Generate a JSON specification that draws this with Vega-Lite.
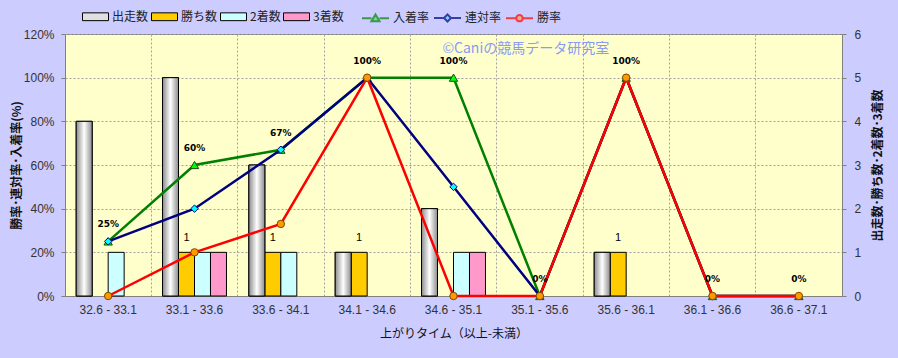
{
  "$schema": "https://vega.github.io/schema/vega-lite/v6.json",
  "width": 777,
  "height": 262,
  "autosize": {"type": "none"},
  "padding": {"left": 65, "top": 34, "right": 56, "bottom": 62},
  "background": "#CCCCFF",
  "config": {
    "view": {"fill": "#FFFFCC", "stroke": "#808080"},
    "axis": {
      "labelFont": "Liberation Sans",
      "labelFontSize": 12,
      "labelColor": "#333333",
      "titleFont": "Noto Sans CJK JP",
      "titleFontSize": 12,
      "titleColor": "#111111",
      "domainColor": "#808080",
      "tickColor": "#808080"
    },
    "legend": {
      "labelFont": "Noto Sans CJK JP",
      "labelFontSize": 12,
      "labelColor": "#222222"
    }
  },
  "datasets": {
    "counts": [
      {"range": "32.6 - 33.1", "series": "出走数", "count": 4},
      {"range": "32.6 - 33.1", "series": "勝ち数", "count": 0},
      {"range": "32.6 - 33.1", "series": "2着数", "count": 1},
      {"range": "32.6 - 33.1", "series": "3着数", "count": 0},
      {"range": "33.1 - 33.6", "series": "出走数", "count": 5},
      {"range": "33.1 - 33.6", "series": "勝ち数", "count": 1},
      {"range": "33.1 - 33.6", "series": "2着数", "count": 1},
      {"range": "33.1 - 33.6", "series": "3着数", "count": 1},
      {"range": "33.6 - 34.1", "series": "出走数", "count": 3},
      {"range": "33.6 - 34.1", "series": "勝ち数", "count": 1},
      {"range": "33.6 - 34.1", "series": "2着数", "count": 1},
      {"range": "33.6 - 34.1", "series": "3着数", "count": 0},
      {"range": "34.1 - 34.6", "series": "出走数", "count": 1},
      {"range": "34.1 - 34.6", "series": "勝ち数", "count": 1},
      {"range": "34.1 - 34.6", "series": "2着数", "count": 0},
      {"range": "34.1 - 34.6", "series": "3着数", "count": 0},
      {"range": "34.6 - 35.1", "series": "出走数", "count": 2},
      {"range": "34.6 - 35.1", "series": "勝ち数", "count": 0},
      {"range": "34.6 - 35.1", "series": "2着数", "count": 1},
      {"range": "34.6 - 35.1", "series": "3着数", "count": 1},
      {"range": "35.1 - 35.6", "series": "出走数", "count": 0},
      {"range": "35.1 - 35.6", "series": "勝ち数", "count": 0},
      {"range": "35.1 - 35.6", "series": "2着数", "count": 0},
      {"range": "35.1 - 35.6", "series": "3着数", "count": 0},
      {"range": "35.6 - 36.1", "series": "出走数", "count": 1},
      {"range": "35.6 - 36.1", "series": "勝ち数", "count": 1},
      {"range": "35.6 - 36.1", "series": "2着数", "count": 0},
      {"range": "35.6 - 36.1", "series": "3着数", "count": 0},
      {"range": "36.1 - 36.6", "series": "出走数", "count": 0},
      {"range": "36.1 - 36.6", "series": "勝ち数", "count": 0},
      {"range": "36.1 - 36.6", "series": "2着数", "count": 0},
      {"range": "36.1 - 36.6", "series": "3着数", "count": 0},
      {"range": "36.6 - 37.1", "series": "出走数", "count": 0},
      {"range": "36.6 - 37.1", "series": "勝ち数", "count": 0},
      {"range": "36.6 - 37.1", "series": "2着数", "count": 0},
      {"range": "36.6 - 37.1", "series": "3着数", "count": 0}
    ],
    "rates": [
      {"range": "32.6 - 33.1", "rate": "入着率", "value": 0.25},
      {"range": "33.1 - 33.6", "rate": "入着率", "value": 0.6},
      {"range": "33.6 - 34.1", "rate": "入着率", "value": 0.67},
      {"range": "34.1 - 34.6", "rate": "入着率", "value": 1.0},
      {"range": "34.6 - 35.1", "rate": "入着率", "value": 1.0},
      {"range": "35.1 - 35.6", "rate": "入着率", "value": 0},
      {"range": "35.6 - 36.1", "rate": "入着率", "value": 1.0},
      {"range": "36.1 - 36.6", "rate": "入着率", "value": 0},
      {"range": "36.6 - 37.1", "rate": "入着率", "value": 0},
      {"range": "32.6 - 33.1", "rate": "連対率", "value": 0.25},
      {"range": "33.1 - 33.6", "rate": "連対率", "value": 0.4},
      {"range": "33.6 - 34.1", "rate": "連対率", "value": 0.67},
      {"range": "34.1 - 34.6", "rate": "連対率", "value": 1.0},
      {"range": "34.6 - 35.1", "rate": "連対率", "value": 0.5},
      {"range": "35.1 - 35.6", "rate": "連対率", "value": 0},
      {"range": "35.6 - 36.1", "rate": "連対率", "value": 1.0},
      {"range": "36.1 - 36.6", "rate": "連対率", "value": 0},
      {"range": "36.6 - 37.1", "rate": "連対率", "value": 0},
      {"range": "32.6 - 33.1", "rate": "勝率", "value": 0},
      {"range": "33.1 - 33.6", "rate": "勝率", "value": 0.2},
      {"range": "33.6 - 34.1", "rate": "勝率", "value": 0.33},
      {"range": "34.1 - 34.6", "rate": "勝率", "value": 1.0},
      {"range": "34.6 - 35.1", "rate": "勝率", "value": 0},
      {"range": "35.1 - 35.6", "rate": "勝率", "value": 0},
      {"range": "35.6 - 36.1", "rate": "勝率", "value": 1.0},
      {"range": "36.1 - 36.6", "rate": "勝率", "value": 0},
      {"range": "36.6 - 37.1", "rate": "勝率", "value": 0}
    ],
    "notes": [
      {"range": "35.1 - 35.6", "value": 1.13, "note": "©Caniの競馬データ研究室"}
    ]
  },
  "encoding": {
    "x": {
      "field": "range",
      "type": "nominal",
      "sort": null,
      "scale": {
        "domain": ["32.6 - 33.1", "33.1 - 33.6", "33.6 - 34.1", "34.1 - 34.6", "34.6 - 35.1", "35.1 - 35.6", "35.6 - 36.1", "36.1 - 36.6", "36.6 - 37.1"],
        "paddingInner": 0,
        "paddingOuter": 0
      },
      "axis": {
        "title": "上がりタイム（以上-未満）",
        "titleFontWeight": "normal",
        "titlePadding": 13,
        "labelAngle": 0,
        "ticks": false,
        "labelPadding": 8,
        "grid": true,
        "bandPosition": 0,
        "gridColor": "#A0A0A0",
        "gridDash": [2, 2],
        "gridWidth": 1
      }
    }
  },
  "layer": [
    {
      "data": {"name": "counts"},
      "encoding": {
        "xOffset": {
          "field": "series",
          "type": "nominal",
          "sort": null,
          "scale": {"domain": ["出走数", "勝ち数", "2着数", "3着数"], "paddingInner": 0, "paddingOuter": 0.7}
        },
        "y": {
          "field": "count",
          "type": "quantitative",
          "scale": {"domain": [0, 6], "nice": false},
          "axis": {
            "orient": "right",
            "values": [0, 1, 2, 3, 4, 5, 6],
            "grid": false,
            "tickSize": 4,
            "labelPadding": 8,
            "title": "出走数･勝ち数･2着数･3着数",
            "titleAngle": 270,
            "titleFontWeight": "bold",
            "titlePadding": 24
          }
        }
      },
      "layer": [
        {
          "transform": [{"filter": "datum.count > 0"}],
          "mark": {"type": "bar", "stroke": "#000000", "strokeWidth": 1},
          "encoding": {
            "color": {
              "field": "series",
              "type": "nominal",
              "scale": {"domain": ["出走数", "勝ち数", "2着数", "3着数"], "range": ["#E0E0E0", "#FFCC00", "#CCFFFF", "#FF99CC"]},
              "legend": {
                "orient": "none",
                "legendX": 17,
                "legendY": -31,
                "direction": "horizontal",
                "title": null,
                "symbolType": "M-1,-0.3H1V0.3H-1Z",
                "symbolSize": 676,
                "symbolStrokeColor": "#000000",
                "symbolStrokeWidth": 1,
                "symbolOpacity": 1,
                "columnPadding": 0,
                "labelOffset": 3
              }
            }
          }
        },
        {
          "transform": [{"filter": "datum.count > 0 && datum.series === '出走数'"}],
          "mark": {
            "type": "bar",
            "stroke": "#000000",
            "strokeWidth": 1,
            "color": {
              "gradient": "linear",
              "x1": 0, "y1": 0, "x2": 1, "y2": 0,
              "stops": [
                {"offset": 0, "color": "#8C8C8C"},
                {"offset": 0.5, "color": "#FFFFFF"},
                {"offset": 1, "color": "#8C8C8C"}
              ]
            }
          }
        },
        {
          "transform": [{"filter": "datum.count > 0 && datum.series === '勝ち数'"}],
          "mark": {"type": "text", "dy": -14, "font": "Liberation Sans", "fontSize": 11, "color": "#000000"},
          "encoding": {"text": {"field": "count", "type": "quantitative"}}
        }
      ]
    },
    {
      "data": {"name": "rates"},
      "encoding": {
        "y": {
          "field": "value",
          "type": "quantitative",
          "scale": {"domain": [0, 1.2], "nice": false},
          "axis": {
            "orient": "left",
            "values": [0, 0.2, 0.4, 0.6, 0.8, 1.0, 1.2],
            "format": ".0%",
            "grid": true,
            "gridColor": "#A0A0A0",
            "gridDash": [2, 2],
            "tickSize": 4,
            "labelPadding": 7,
            "title": "勝率･連対率･入着率(%)",
            "titleFontWeight": "bold",
            "titlePadding": 0
          }
        }
      },
      "layer": [
        {
          "data": {"name": "notes"},
          "mark": {"type": "text", "align": "center", "baseline": "middle", "dx": -14, "font": "Noto Sans CJK JP", "fontSize": 14, "color": "#8A9AF2"},
          "encoding": {"text": {"field": "note", "type": "nominal"}}
        },
        {
          "transform": [{"filter": "datum.rate === '入着率'"}],
          "mark": {"type": "line", "color": "#008000", "strokeWidth": 2.5}
        },
        {
          "transform": [{"filter": "datum.rate === '入着率'"}],
          "mark": {"type": "point", "shape": "triangle-up", "filled": true, "fill": "#00FF00", "stroke": "#1A4D1A", "strokeWidth": 1, "size": 70, "opacity": 1}
        },
        {
          "transform": [{"filter": "datum.rate === '連対率'"}],
          "mark": {"type": "line", "color": "#000080", "strokeWidth": 2.5}
        },
        {
          "transform": [{"filter": "datum.rate === '連対率'"}],
          "mark": {"type": "point", "shape": "diamond", "filled": true, "fill": "#00FFFF", "stroke": "#000080", "strokeWidth": 1, "size": 55, "opacity": 1}
        },
        {
          "transform": [{"filter": "datum.rate === '勝率'"}],
          "mark": {"type": "line", "color": "#FF0000", "strokeWidth": 2.5}
        },
        {
          "transform": [{"filter": "datum.rate === '勝率'"}],
          "mark": {"type": "point", "shape": "circle", "filled": true, "fill": "#FF9900", "stroke": "#7A4A00", "strokeWidth": 1, "size": 55, "opacity": 1}
        },
        {
          "transform": [{"filter": "datum.rate === '入着率'"}],
          "mark": {"type": "text", "dy": -17, "font": "DejaVu Sans", "fontSize": 9, "fontWeight": "bold", "color": "#000000"},
          "encoding": {"text": {"field": "value", "type": "quantitative", "format": ".0%"}}
        },
        {
          "transform": [{"filter": "false"}],
          "mark": {"type": "point", "filled": false, "strokeWidth": 2},
          "encoding": {
            "stroke": {
              "field": "rate",
              "type": "nominal",
              "scale": {"domain": ["入着率", "連対率", "勝率"], "range": ["#008000", "#000080", "#FF0000"]},
              "legend": {
                "orient": "none",
                "legendX": 296,
                "legendY": -31,
                "direction": "horizontal",
                "title": null,
                "symbolSize": 729,
                "symbolStrokeWidth": 2,
                "symbolOpacity": 1,
                "columnPadding": 0,
                "labelOffset": 3
              }
            },
            "fill": {
              "field": "rate",
              "type": "nominal",
              "scale": {"domain": ["入着率", "連対率", "勝率"], "range": ["#00FF00", "#00FFFF", "#FF9900"]}
            },
            "shape": {
              "field": "rate",
              "type": "nominal",
              "scale": {
                "domain": ["入着率", "連対率", "勝率"],
                "range": [
                  "M-1,0H-0.3M0.3,0H1M0,-0.28L0.3,0.22H-0.3Z",
                  "M-1,0H-0.28M0.28,0H1M0,-0.26L0.26,0L0,0.26L-0.26,0Z",
                  "M-1,0H-0.26M0.26,0H1M-0.24,0A0.24,0.24 0 1,0 0.24,0A0.24,0.24 0 1,0 -0.24,0Z"
                ]
              }
            }
          }
        }
      ]
    }
  ],
  "resolve": {"scale": {"y": "independent"}}
}
